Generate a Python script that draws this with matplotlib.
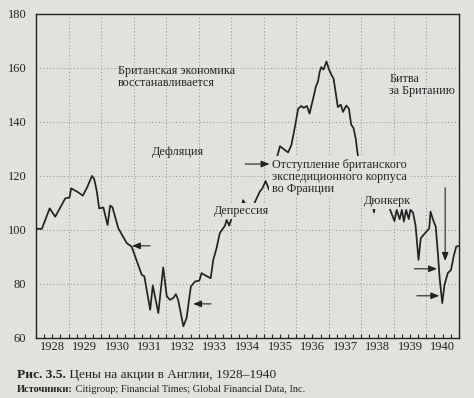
import matplotlib.pyplot as plt
import numpy as np

plt.rcParams['font.family'] = ['Liberation Serif', 'DejaVu Serif']

paper = '#e2e1dd'
ink = '#222222'

# ! <--- Index values (year fraction, level) --->
years = [1928.00, 1928.18, 1928.42, 1928.59, 1928.90, 1929.03, 1929.08, 1929.26, 1929.44, 1929.58,
         1929.72, 1929.79, 1929.87, 1929.94, 1930.07, 1930.20, 1930.28, 1930.35, 1930.53, 1930.79,
         1930.94, 1931.25, 1931.33, 1931.51, 1931.59, 1931.76, 1931.91, 1932.02, 1932.12, 1932.22,
         1932.30, 1932.37, 1932.53, 1932.63, 1932.76, 1932.89, 1933.02, 1933.09, 1933.26, 1933.37,
         1933.45, 1933.55, 1933.65, 1933.81, 1933.86, 1933.94, 1934.01, 1934.15, 1934.27, 1934.37,
         1934.50, 1934.63, 1934.76, 1934.88, 1934.96, 1935.06, 1935.17, 1935.30, 1935.50, 1935.75,
         1935.85, 1935.95, 1936.06, 1936.16, 1936.23, 1936.33, 1936.41, 1936.52, 1936.60, 1936.67,
         1936.72, 1936.77, 1936.84, 1936.93, 1937.00, 1937.08, 1937.15, 1937.21, 1937.28, 1937.37,
         1937.44, 1937.54, 1937.62, 1937.69, 1937.76, 1937.83, 1937.88, 1937.95, 1938.05, 1938.25,
         1938.35, 1938.39, 1938.45, 1938.60, 1938.80, 1938.89, 1939.02, 1939.09, 1939.18, 1939.25,
         1939.31, 1939.38, 1939.46, 1939.51, 1939.59, 1939.67, 1939.76, 1939.83, 1939.91, 1940.01,
         1940.09, 1940.13, 1940.21, 1940.29, 1940.36, 1940.41, 1940.49, 1940.56, 1940.66, 1940.76,
         1940.84, 1940.92, 1940.98]
prices = [100.4, 100.4, 108.0, 104.9, 111.7, 112.0, 115.4, 114.2, 112.7, 116.0,
          120.0, 118.8, 114.2, 108.0, 108.3, 101.8, 109.0, 108.4, 100.6, 95.1,
          93.8, 83.4, 82.8, 70.4, 79.4, 69.2, 86.1, 75.4, 74.1, 74.8,
          76.2, 74.1, 64.3, 67.4, 79.0, 80.9, 81.2, 84.0, 82.8, 82.1,
          88.9, 93.2, 98.8, 101.6, 103.7, 101.6, 104.3, 107.5, 106.0, 111.0,
          108.0, 107.5, 111.1, 114.2, 115.4, 118.1, 114.8, 122.0, 131.0, 128.7,
          131.4, 137.5, 144.9, 145.9, 145.2, 145.9, 143.1, 148.6, 152.9, 155.0,
          158.5, 160.3, 159.4, 162.4, 159.7, 157.5, 156.0, 151.1, 145.5, 146.4,
          143.7, 146.1, 144.9, 139.0, 137.8, 133.8, 128.9, 124.0, 120.0, 114.0,
          110.5, 106.5, 111.5, 112.0, 111.5, 107.4, 103.3, 107.4, 104.0, 107.4,
          103.1, 107.4, 104.0, 107.4, 106.5, 101.6, 88.9, 96.9, 98.1, 99.4,
          100.6, 106.8, 103.7, 101.2, 90.7, 82.1, 72.9, 79.7, 84.0, 85.2,
          90.2, 93.8, 94.0]

year_labels = [str(y) for y in range(1928, 1941)]
y_ticks = [60, 80, 100, 120, 140, 160, 180]

fig = plt.figure(figsize=(4.74, 3.98), dpi=100, facecolor=paper)
ax = fig.add_axes([0.076, 0.151, 0.892, 0.814])
ax.set_facecolor(paper)
ax.set_xlim(1928, 1941)
ax.set_ylim(60, 180)

# ! <--- dotted grid --->
ax.vlines(range(1929, 1941), 60, 180, colors='#8a8a8a', linestyles=(0, (1, 2.5)), lw=0.7, zorder=1)
ax.hlines(y_ticks[1:-1], 1928, 1941, colors='#8a8a8a', linestyles=(0, (1, 2.5)), lw=0.7, zorder=1)

ax.plot(years, prices, color=ink, lw=1.25, zorder=2)

ax.set_xticks(np.arange(1928, 1941) + 0.5)
ax.set_xticklabels(year_labels)
ax.set_xticks(np.arange(1928, 1941.01, 0.25), minor=True)
ax.tick_params(axis='x', which='both', direction='in', length=3, width=0.8, pad=2,
               labelsize=9, colors=ink)
ax.set_yticks(y_ticks)
ax.tick_params(axis='y', length=0, pad=7, labelsize=9, labelcolor=ink)
for s in ax.spines.values():
    s.set_color(ink)
    s.set_linewidth(1.0)

# ! <--- labels, boxes painted in paper colour so they hide the line --->
fs = 8.7
ax.text(1930.52, 156.7, 'Британская экономика\nвосстанавливается', ha='left', va='center',
        fontsize=fs, color=ink, linespacing=1.05)
ax.text(1932.35, 128.9, 'Дефляция', ha='center', va='center', fontsize=fs, color=ink)
ax.text(1938.86, 153.7, 'Битва\nза Британию', ha='left', va='center', fontsize=fs,
        color=ink, linespacing=1.05)
ax.text(1934.31, 107.0, 'Депрессия', ha='center', va='center', fontsize=fs, color=ink,
        bbox=dict(boxstyle='square,pad=0.15', fc=paper, ec='none'), zorder=3)
ax.text(1935.25, 119.6, 'Отступление британского\nэкспедиционного корпуса\nво Франции',
        ha='left', va='center', fontsize=fs, color=ink, linespacing=1.05,
        bbox=dict(boxstyle='square,pad=0.25', fc=paper, ec='none'), zorder=3)
ax.text(1938.82, 110.6, 'Дюнкерк', ha='center', va='center', fontsize=fs, color=ink,
        bbox=dict(boxstyle='square,pad=0.15', fc=paper, ec='none'), zorder=3)

# ! <--- arrows (head, tail) --->
arrows = [((1930.95, 94.1), (1931.51, 94.1)),
          ((1932.83, 72.6), (1933.38, 72.6)),
          ((1935.18, 124.4), (1934.43, 124.4)),
          ((1940.58, 88.5), (1940.58, 115.6)),
          ((1940.33, 85.6), (1939.63, 85.6)),
          ((1940.40, 75.6), (1939.71, 75.6))]
for head, tail in arrows:
    ax.annotate('', xy=head, xytext=tail,
                arrowprops=dict(arrowstyle='-|>,head_length=0.5,head_width=0.2', color=ink,
                                lw=0.8, shrinkA=0, shrinkB=0), zorder=4)

# ! <--- caption --->
t1 = fig.text(17 / 474, 1 - 378 / 398, 'Рис. 3.5.', fontsize=9.6, fontweight='bold',
              color=ink, va='baseline')
ax.annotate(' Цены на акции в Англии, 1928–1940', xy=(1, 0), xycoords=t1, va='bottom',
            ha='left', fontsize=9.6, color=ink)
t2 = fig.text(17 / 474, 1 - 392 / 398, 'Источники:', fontsize=7.5, fontweight='bold',
              color=ink, va='baseline')
ax.annotate(' Citigroup; Financial Times; Global Financial Data, Inc.', xy=(1, 0), xycoords=t2,
            va='bottom', ha='left', fontsize=7.5, color=ink)

plt.savefig('out.png', dpi=100, facecolor=paper)
